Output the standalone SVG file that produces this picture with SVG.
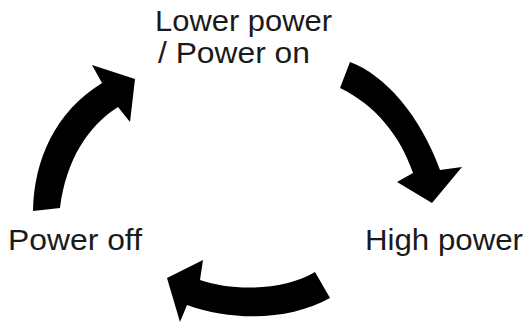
<svg xmlns="http://www.w3.org/2000/svg" width="528" height="323" viewBox="0 0 528 323">
<style>
.lbl{font-family:"Liberation Sans",Arial,sans-serif;font-size:30px;fill:#1a1a1a}
.arr{fill:#000;stroke:none}
</style>
<rect width="528" height="323" fill="#fff"/>
<g id="connectors">
<path class="arr" d="M33,211 C34,160 55,112 102,83 L92,65 L135,79 L130,122 L118,107 C88,126 66,160 60,208 Z"/>
<path class="arr" d="M350,62 C385,75 420,115 440,170 L462,167 L432,203 L397,182 L413,173 C400,135 375,105 340,88 Z"/>
<path class="arr" d="M315,272 C285,290 235,292 200,280 L203,260 L167,278 L180,322 L187,305 C235,322 290,320 330,298 Z"/>
</g>
<g id="node-power-on">
<text class="lbl" x="155" y="31" textLength="177" lengthAdjust="spacingAndGlyphs">Lower power</text>
<text class="lbl" x="158" y="63" textLength="152" lengthAdjust="spacingAndGlyphs">/ Power on</text>
</g>
<g id="node-high-power">
<text class="lbl" x="365" y="250" textLength="158" lengthAdjust="spacingAndGlyphs">High power</text>
</g>
<g id="node-power-off">
<text class="lbl" x="8" y="250" textLength="134" lengthAdjust="spacingAndGlyphs">Power off</text>
</g>
</svg>
